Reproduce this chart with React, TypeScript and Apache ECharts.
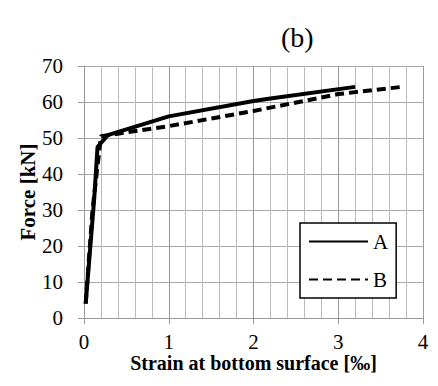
import React, { useEffect, useRef } from "react";
import * as echarts from "echarts";

const seriesNames = ["A", "B"];
const strainA = [0.02, 0.12, 0.16, 0.28, 1.0, 2.0, 2.2, 3.2];
const forceA = [4, 33, 47.5, 50.8, 56, 60.3, 61, 64.2];
const strainB = [0.02, 0.1, 0.2, 1.0, 2.0, 3.0, 3.75];
const forceB = [4, 30, 50.5, 53.3, 57.5, 62.2, 64.2];

const FONT = "Liberation Serif";

export default function App() {
  const ref = useRef<HTMLDivElement>(null);
  useEffect(() => {
    const chart = echarts.init(ref.current!, null, { renderer: "svg" });
    chart.setOption({
      animation: false,
      backgroundColor: "#fff",
      textStyle: { fontFamily: FONT },
      title: {
        text: "(b)",
        left: 268,
        top: 10,
        textStyle: { fontFamily: FONT, fontSize: 28, fontWeight: "normal", color: "#000" },
      },
      grid: { left: 76, right: 7, top: 58, bottom: 60, outerBoundsMode: "none", containLabel: false },
      legend: {
        orient: "vertical",
        left: 292,
        top: 215,
        padding: [8, 8, 8, 8],
        itemWidth: 59,
        itemHeight: 20,
        itemGap: 17,
        borderColor: "#000",
        borderWidth: 1.5,
        borderRadius: 0,
        backgroundColor: "#fff",
        itemStyle: { opacity: 0 },
        textStyle: { fontFamily: FONT, fontSize: 21, color: "#000" },
        data: seriesNames,
      },
      xAxis: {
        type: "value",
        min: 0,
        max: 4,
        interval: 1,
        name: "Strain at bottom surface [‰]",
        nameLocation: "middle",
        nameGap: 35,
        nameMoveOverlap: false,
        nameTextStyle: { fontFamily: FONT, fontSize: 20, fontWeight: "bold", color: "#000" },
        axisLine: { show: true, lineStyle: { color: "#999", width: 1 } },
        axisTick: { show: true, length: 6, lineStyle: { color: "#999" } },
        axisLabel: { fontFamily: FONT, fontSize: 21, color: "#000", margin: 13 },
        splitLine: { show: true, lineStyle: { color: "#999", width: 1 } },
        minorTick: { show: false, splitNumber: 5 },
        minorSplitLine: { show: true, lineStyle: { color: "#bbb", width: 1 } },
      },
      yAxis: {
        type: "value",
        min: 0,
        max: 70,
        interval: 10,
        name: "Force [kN]",
        nameLocation: "middle",
        nameGap: 46,
        nameMoveOverlap: false,
        nameTextStyle: { fontFamily: FONT, fontSize: 21, fontWeight: "bold", color: "#000" },
        axisLine: { show: true, lineStyle: { color: "#999", width: 1 } },
        axisTick: { show: true, length: 6, lineStyle: { color: "#999" } },
        axisLabel: { fontFamily: FONT, fontSize: 21, color: "#000", margin: 21 },
        splitLine: { show: true, lineStyle: { color: "#aaa", width: 1 } },
      },
      series: [
        {
          name: seriesNames[0],
          type: "line",
          symbol: "none",
          data: strainA.map((x, i) => [x, forceA[i]]),
          lineStyle: { color: "#000", width: 4, type: "solid" },
          itemStyle: { color: "#000" },
        },
        {
          name: seriesNames[1],
          type: "line",
          symbol: "none",
          data: strainB.map((x, i) => [x, forceB[i]]),
          lineStyle: { color: "#000", width: 4, type: [9, 5] },
          itemStyle: { color: "#000" },
        },
      ],
    });
    return () => chart.dispose();
  }, []);
  return <div ref={ref} style={{ width: 422, height: 370 }} />;
}
